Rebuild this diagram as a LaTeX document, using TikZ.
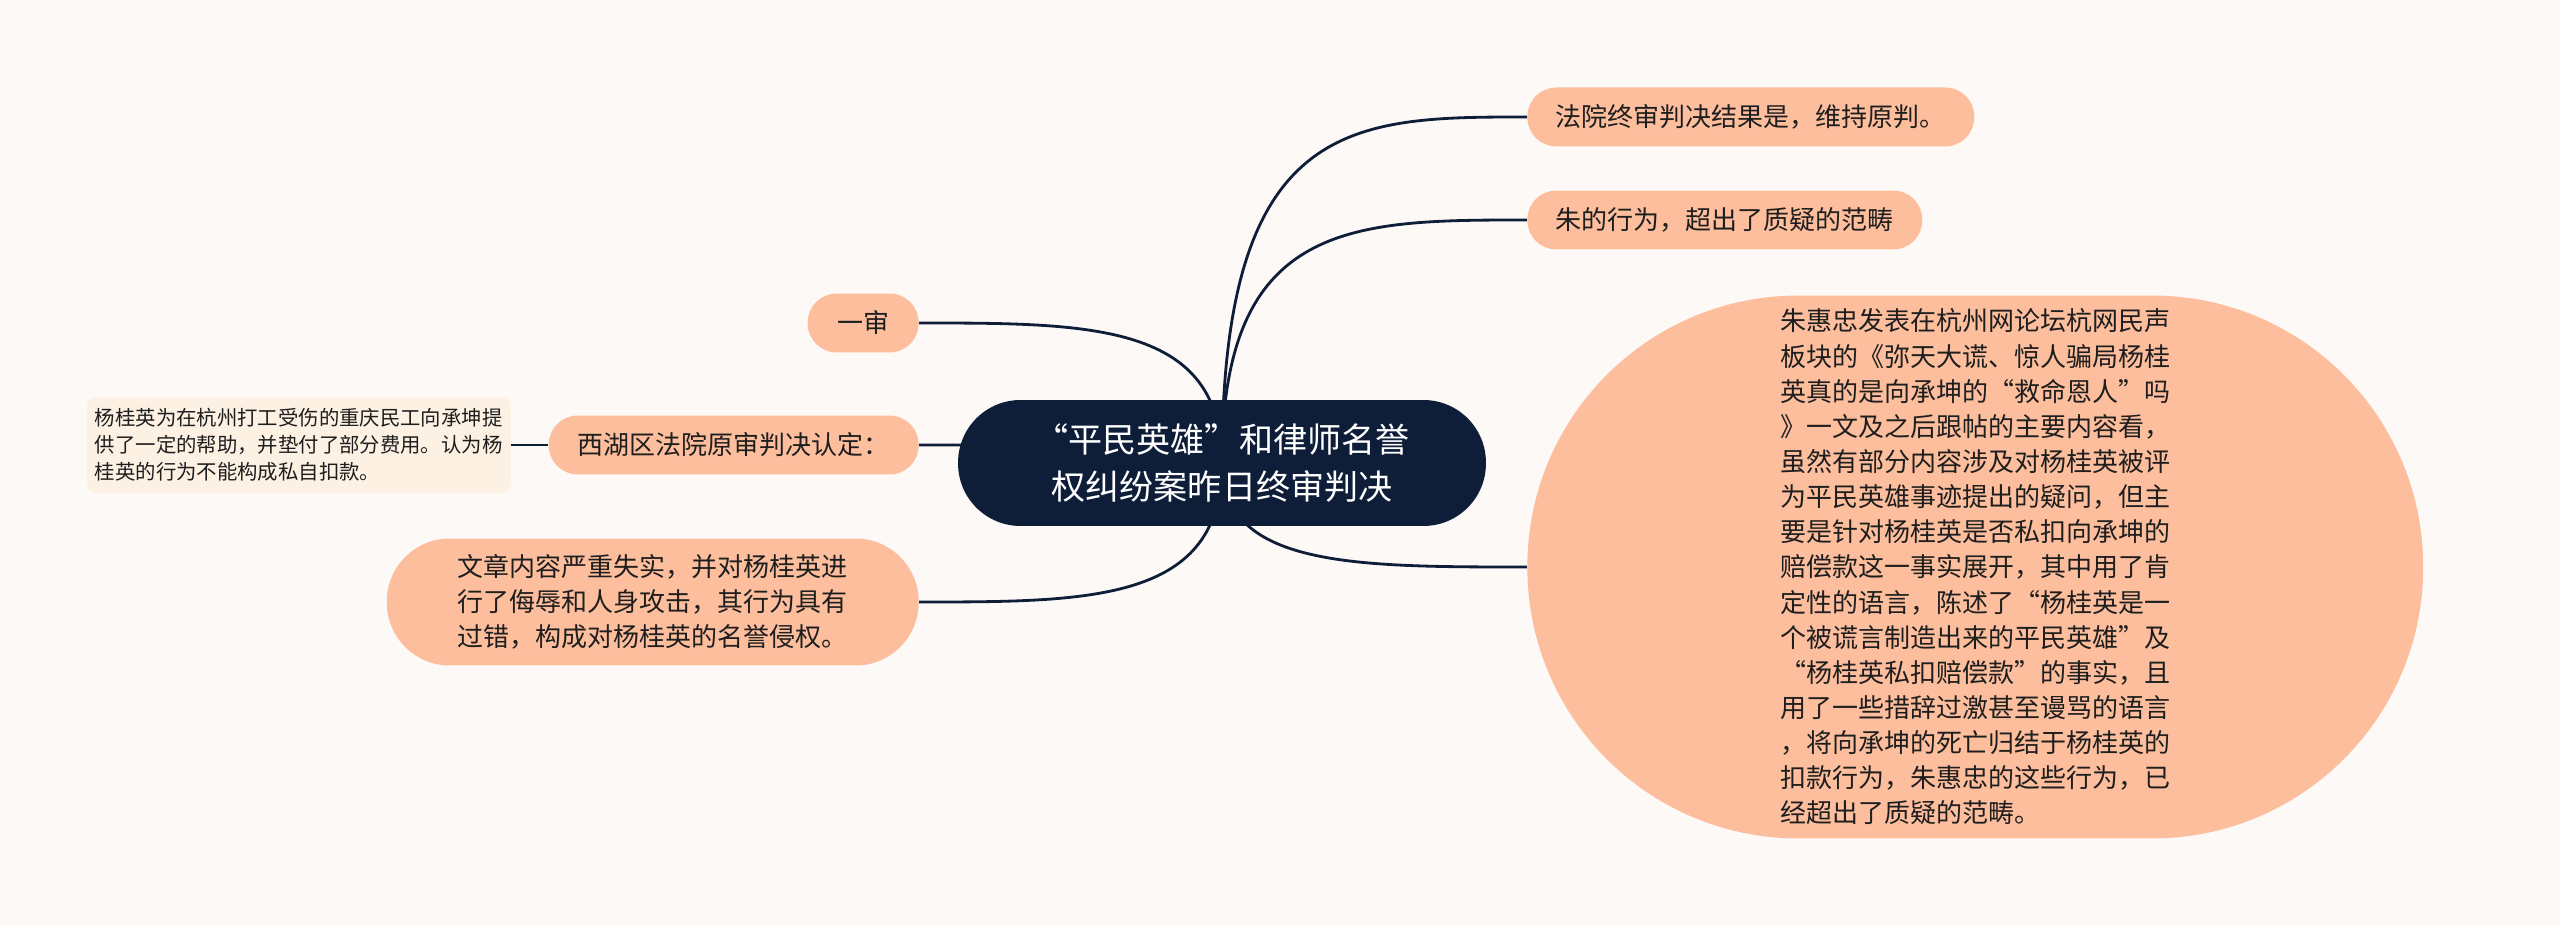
\documentclass[tikz,border=0pt]{standalone}
\usepackage{fontspec}
\setmainfont{Noto Sans CJK SC}
\usetikzlibrary{calc,backgrounds}

\definecolor{paper}{HTML}{FDF9F7}
\definecolor{peach}{HTML}{FCBE9D}
\definecolor{navy}{HTML}{0E1E38}
\definecolor{cream}{HTML}{FDF1E3}
\definecolor{ink}{HTML}{1E1E1E}

\tikzset{
  topic/.style={fill=peach, text=ink, font=\fontsize{14.8}{20}\selectfont,
    inner sep=0pt, minimum height=1.18cm, rounded corners=0.58cm},
  note/.style={fill=cream, text=ink, font=\fontsize{11.6}{15.5}\selectfont,
    align=left, inner sep=0pt, rounded corners=0.2cm},
  branch/.style={draw=navy, line width=1.6pt},
}

\begin{document}
\begin{tikzpicture}[x=0.02cm, y=-0.02cm]
\useasboundingbox (0,0) rectangle (2560,925);

%--- ROOT ---
\node[fill=navy, text=white, font=\fontsize{19.4}{27}\selectfont, align=center,
  minimum width=10.56cm, minimum height=2.52cm, rounded corners=1.25cm]
  (root) at (1222,463) {“平民英雄”和律师名誉\\权纠纷案昨日终审判决};

%--- RIGHT BRANCHES ---
\node[topic, anchor=west, minimum width=8.94cm] (final) at (1527,117)
  {法院终审判决结果是，维持原判。};
\node[topic, anchor=west, minimum width=7.9cm] (beyond) at (1527,220)
  {朱的行为，超出了质疑的范畴};
\node[topic, anchor=west, align=left, minimum width=17.92cm,
  minimum height=10.86cm, rounded corners=5.42cm] (post) at (1527,567)
  {朱惠忠发表在杭州网论坛杭网民声\\
   板块的《弥天大谎、惊人骗局杨桂\\
   英真的是向承坤的“救命恩人”吗\\
   》一文及之后跟帖的主要内容看，\\
   虽然有部分内容涉及对杨桂英被评\\
   为平民英雄事迹提出的疑问，但主\\
   要是针对杨桂英是否私扣向承坤的\\
   赔偿款这一事实展开，其中用了肯\\
   定性的语言，陈述了“杨桂英是一\\
   个被谎言制造出来的平民英雄”及\\
   “杨桂英私扣赔偿款”的事实，且\\
   用了一些措辞过激甚至谩骂的语言\\
   ，将向承坤的死亡归结于杨桂英的\\
   扣款行为，朱惠忠的这些行为，已\\
   经超出了质疑的范畴。};

%--- LEFT BRANCHES ---
\node[topic, anchor=east, minimum width=2.22cm] (first) at (919,323) {一审};
\node[topic, anchor=east, minimum width=7.4cm] (xihu) at (919,445)
  {西湖区法院原审判决认定：};
\node[note, anchor=east, minimum width=8.48cm, minimum height=1.92cm]
  (detail) at (511,445)
  {杨桂英为在杭州打工受伤的重庆民工向承坤提\\
   供了一定的帮助，并垫付了部分费用。认为杨\\
   桂英的行为不能构成私自扣款。};
\node[topic, anchor=east, align=left, minimum width=10.64cm,
  minimum height=2.54cm, rounded corners=1.26cm] (verdict) at (919,602)
  {文章内容严重失实，并对杨桂英进\\
   行了侮辱和人身攻击，其行为具有\\
   过错，构成对杨桂英的名誉侵权。};

%--- CONNECTORS (behind the nodes) ---
\begin{scope}[on background layer]
  \fill[paper] (0,0) rectangle (2560,925);
  \foreach \c/\a in {final/west, beyond/west, post/west,
                     first/east, xihu/east, verdict/east}
    \draw[branch] (root.center) .. controls (root.center |- \c.\a)
      and ($(root.center |- \c.\a)!0.43!(\c.\a)$) .. (\c.\a);
  \draw[branch] (detail.east) -- (xihu.west);
\end{scope}

\end{tikzpicture}
\end{document}
